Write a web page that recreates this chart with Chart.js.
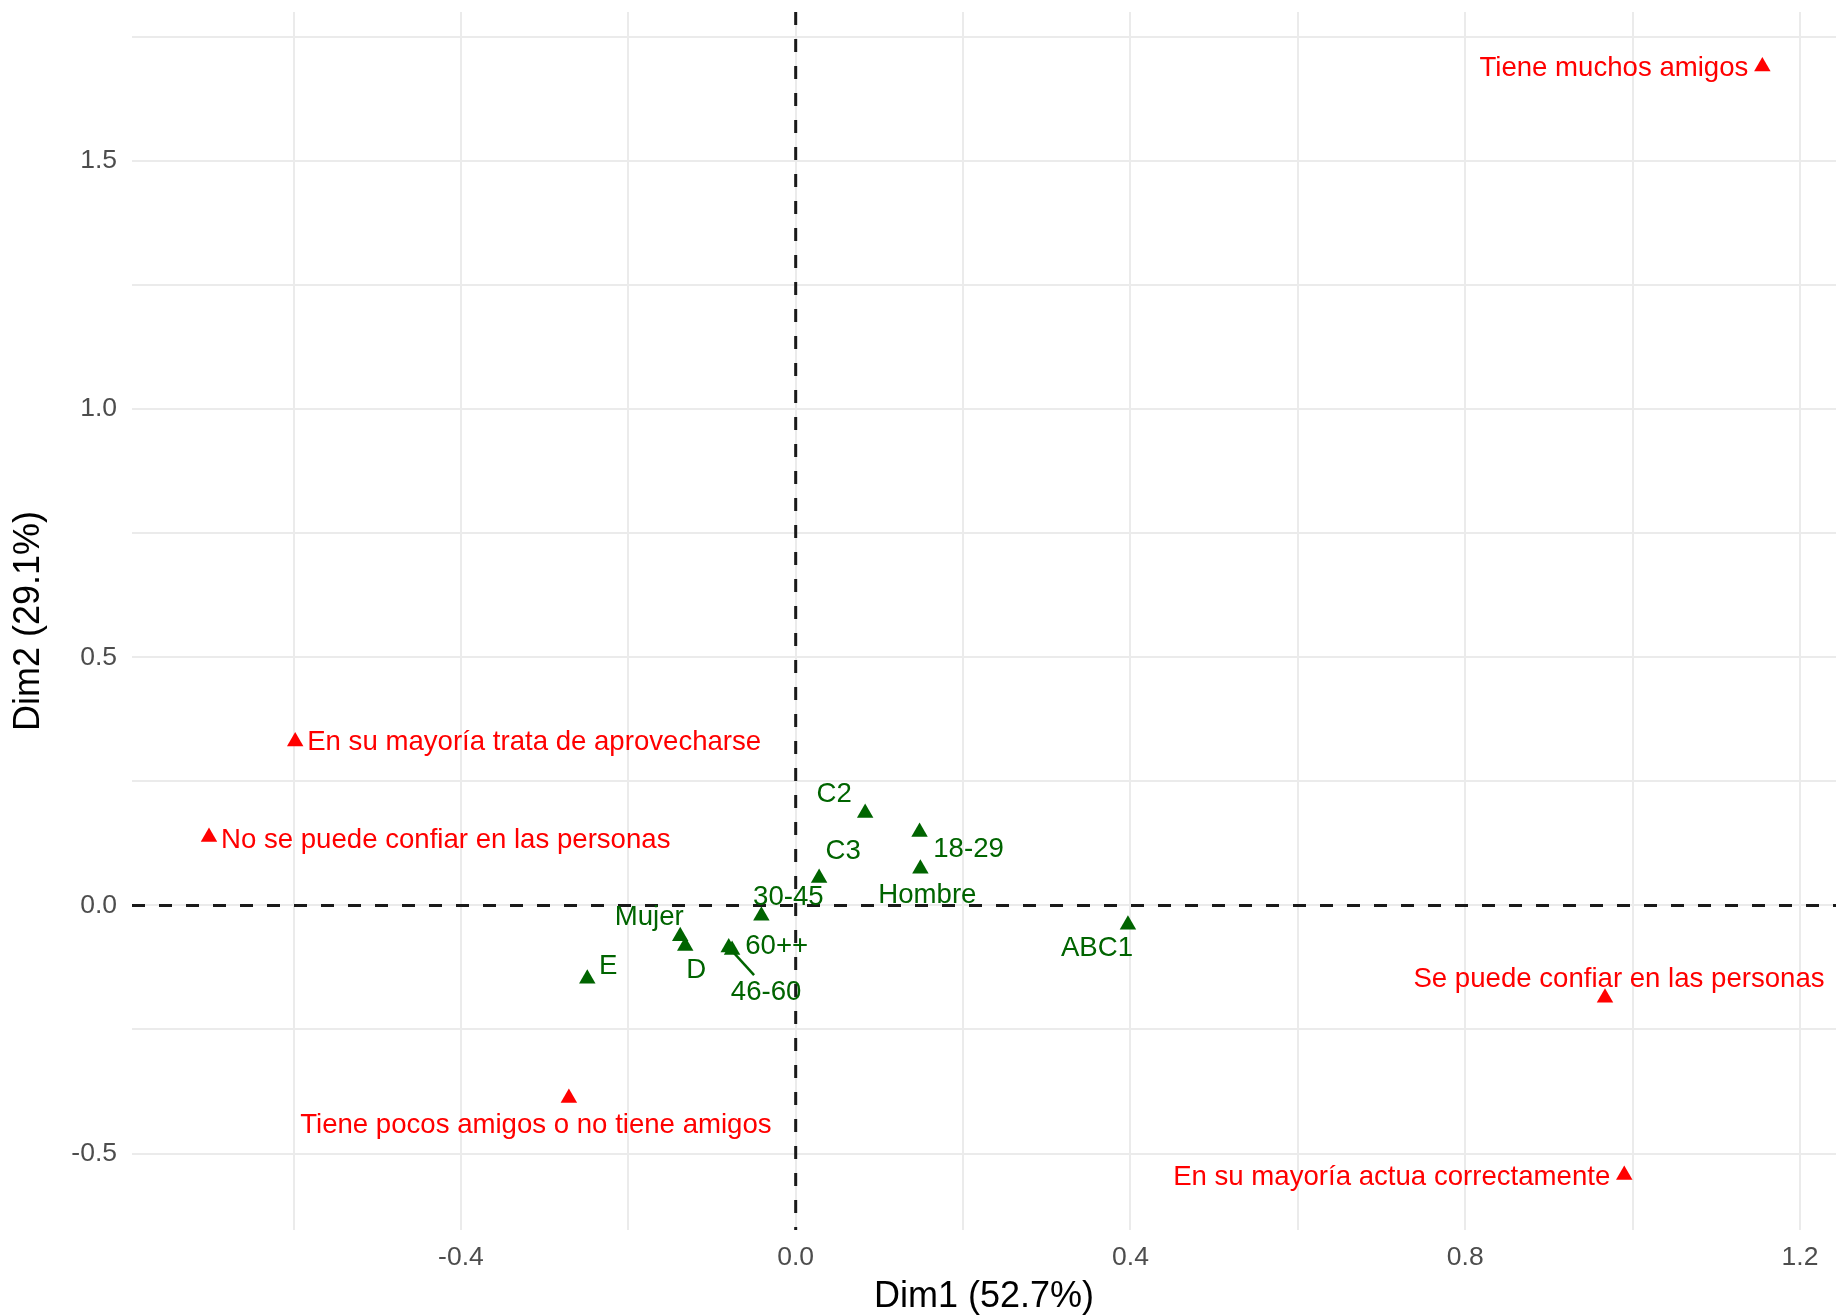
<!DOCTYPE html>
<html>
<head>
<meta charset="utf-8">
<script src="https://cdn.jsdelivr.net/npm/chart.js@4.4.1/dist/chart.umd.min.js"></script>
<style>
  html, body { margin: 0; padding: 0; background: #fff; }
  #wrap { width: 1848px; height: 1315px; position: relative; }
</style>
</head>
<body>
<div id="wrap"><canvas id="ca"></canvas></div>
<script>
// --- data ---
const respuestaLabels = [
  "Tiene muchos amigos",
  "En su mayoría trata de aprovecharse",
  "No se puede confiar en las personas",
  "Tiene pocos amigos o no tiene amigos",
  "Se puede confiar en las personas",
  "En su mayoría actua correctamente",
];
const respuestaDim1 = [1.155, -0.598, -0.701, -0.271, 0.967, 0.990];
const respuestaDim2 = [1.690, 0.330, 0.138, -0.388, -0.186, -0.543];

const perfilLabels = ["C2", "18-29", "Hombre", "C3", "30-45", "ABC1", "Mujer", "D", "60++", "46-60", "E"];
const perfilDim1 = [0.083, 0.148, 0.149, 0.028, -0.041, 0.397, -0.138, -0.132, -0.080, -0.076, -0.249];
const perfilDim2 = [0.186, 0.148, 0.074, 0.055, -0.021, -0.039, -0.062, -0.082, -0.085, -0.090, -0.148];

const xTickLabels = ["-0.4", "0.0", "0.4", "0.8", "1.2"];
const yTickLabels = ["-0.5", "0.0", "0.5", "1.0", "1.5"];
const xMinorTicks = [-0.6, -0.2, 0.2, 0.6, 1.0];
const yMinorTicks = [-0.25, 0.25, 0.75, 1.25, 1.75];

const xTitle = "Dim1 (52.7%)";
const yTitle = "Dim2 (29.1%)";

// --- label placement (pixels from the point, like ggrepel put them) ---
const respuestaLabelPos = [
  { dx: -14, dy: 2, align: "right" },
  { dx: 12, dy: 1, align: "left" },
  { dx: 12, dy: 3, align: "left" },
  { dx: -33, dy: 27, align: "center" },
  { dx: 14, dy: -18, align: "center" },
  { dx: -14, dy: 2, align: "right" },
];
const perfilLabelPos = [
  { dx: -31, dy: -19 },
  { dx: 49, dy: 17 },
  { dx: 7, dy: 27 },
  { dx: 24, dy: -27 },
  { dx: 27, dy: -18 },
  { dx: -31, dy: 24 },
  { dx: -31, dy: -19 },
  { dx: 11, dy: 24 },
  { dx: 48, dy: -1 },
  { dx: 34, dy: 42, seg: [22, 25] },
  { dx: 21, dy: -12 },
];

const FONT = "'Liberation Sans', Arial, Helvetica, sans-serif";
const RED = "#ff0000";
const GREEN = "#006400";

const toPoints = (xs, ys) => xs.map((x, i) => ({ x: x, y: ys[i] }));

const tickValues = (labels, minors) =>
  labels.map((l) => parseFloat(l)).concat(minors).sort((a, b) => a - b);

const labelFor = (labels, value) => {
  const hit = labels.find((l) => Math.abs(parseFloat(l) - value) < 1e-6);
  return hit === undefined ? "" : hit;
};

const zeroLines = {
  id: "zeroLines",
  beforeDatasetsDraw(chart) {
    const { ctx, chartArea, scales } = chart;
    const x0 = scales.x.getPixelForValue(0);
    const y0 = scales.y.getPixelForValue(0);
    ctx.save();
    ctx.strokeStyle = "#1a1a1a";
    ctx.lineWidth = 3;
    ctx.setLineDash([13, 14]);
    ctx.beginPath();
    ctx.moveTo(chartArea.left, y0);
    ctx.lineTo(chartArea.right, y0);
    ctx.moveTo(x0, chartArea.top);
    ctx.lineTo(x0, chartArea.bottom);
    ctx.stroke();
    ctx.restore();
  },
};

const pointLabels = {
  id: "pointLabels",
  afterDatasetsDraw(chart) {
    const ctx = chart.ctx;
    const groups = [
      { meta: chart.getDatasetMeta(0), texts: respuestaLabels, pos: respuestaLabelPos, color: RED },
      { meta: chart.getDatasetMeta(1), texts: perfilLabels, pos: perfilLabelPos, color: GREEN },
    ];
    ctx.save();
    ctx.font = "27.6px " + FONT;
    ctx.textBaseline = "middle";
    groups.forEach((g) => {
      g.meta.data.forEach((el, i) => {
        const p = g.pos[i];
        ctx.fillStyle = g.color;
        ctx.textAlign = p.align || "center";
        ctx.fillText(g.texts[i], el.x + p.dx, el.y + p.dy);
        if (p.seg) {
          ctx.strokeStyle = g.color;
          ctx.lineWidth = 2.5;
          ctx.beginPath();
          ctx.moveTo(el.x + 2, el.y + 3);
          ctx.lineTo(el.x + p.seg[0], el.y + p.seg[1]);
          ctx.stroke();
        }
      });
    });
    ctx.restore();
  },
};

new Chart(document.getElementById("ca"), {
  type: "scatter",
  data: {
    datasets: [
      {
        label: "respuestas",
        data: toPoints(respuestaDim1, respuestaDim2),
        pointStyle: "triangle",
        pointRadius: 9.5,
        backgroundColor: RED,
        borderColor: RED,
        borderWidth: 0,
      },
      {
        label: "perfil",
        data: toPoints(perfilDim1, perfilDim2),
        pointStyle: "triangle",
        pointRadius: 9.5,
        backgroundColor: GREEN,
        borderColor: GREEN,
        borderWidth: 0,
      },
    ],
  },
  options: {
    responsive: true,
    maintainAspectRatio: false,
    animation: false,
    layout: { padding: { top: 12, right: 12, left: 0, bottom: 0 } },
    scales: {
      x: {
        type: "linear",
        min: -0.793,
        max: 1.243,
        afterBuildTicks: (scale) => {
          scale.ticks = tickValues(xTickLabels, xMinorTicks).map((v) => ({ value: v }));
        },
        afterFit: (scale) => {
          scale.height = 85;
          scale.paddingLeft = 0;
          scale.paddingRight = 0;
        },
        grid: { color: "#ebebeb", lineWidth: 2, drawTicks: false },
        border: { display: false },
        ticks: {
          autoSkip: false,
          maxRotation: 0,
          padding: 12,
          color: "#4d4d4d",
          font: { family: FONT, size: 26.5 },
          callback: (value) => labelFor(xTickLabels, value),
        },
        title: {
          display: true,
          text: xTitle,
          color: "#000",
          font: { family: FONT, size: 36, lineHeight: 1 },
          padding: { top: 0, bottom: 0 },
        },
      },
      y: {
        type: "linear",
        min: -0.654,
        max: 1.80,
        afterBuildTicks: (scale) => {
          scale.ticks = tickValues(yTickLabels, yMinorTicks).map((v) => ({ value: v }));
        },
        afterFit: (scale) => {
          scale.width = 132;
          scale.paddingTop = 0;
          scale.paddingBottom = 0;
        },
        grid: { color: "#ebebeb", lineWidth: 2, drawTicks: false },
        border: { display: false },
        ticks: {
          autoSkip: false,
          padding: 15,
          color: "#4d4d4d",
          font: { family: FONT, size: 26.5 },
          callback: (value) => labelFor(yTickLabels, value),
        },
        title: {
          display: true,
          text: yTitle,
          color: "#000",
          font: { family: FONT, size: 36, lineHeight: 1 },
          padding: { top: 11, bottom: 0 },
        },
      },
    },
    plugins: {
      legend: { display: false },
      tooltip: { enabled: false },
    },
  },
  plugins: [zeroLines, pointLabels],
});
</script>
</body>
</html>
